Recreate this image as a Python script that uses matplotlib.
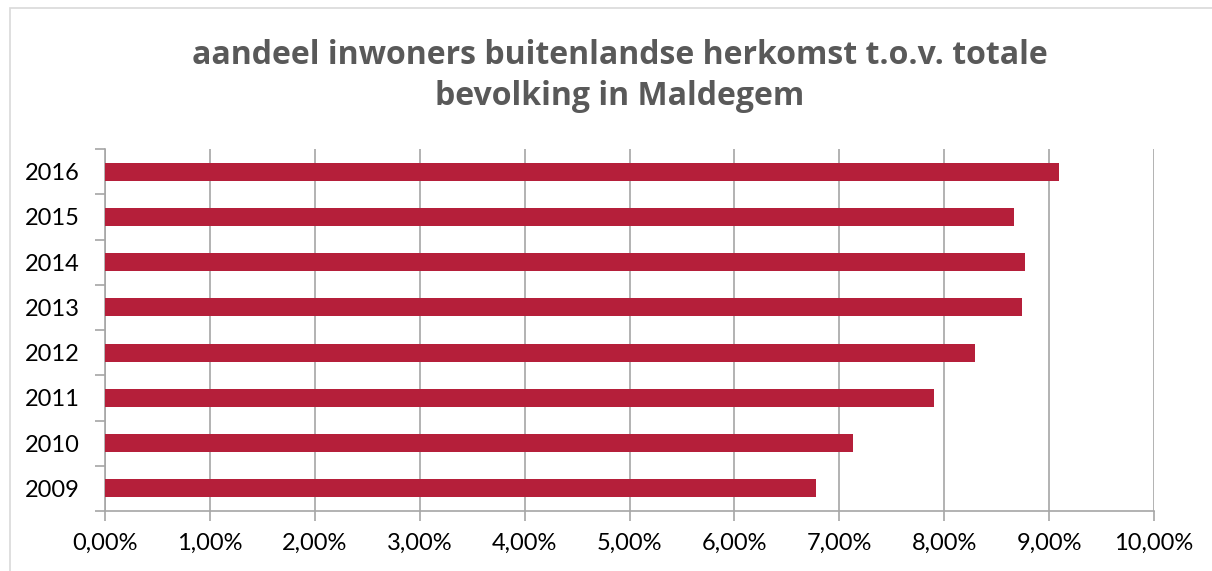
import matplotlib.pyplot as plt
from matplotlib.patches import Rectangle
from matplotlib.ticker import FuncFormatter, MultipleLocator

years = ['2009', '2010', '2011', '2012', '2013', '2014', '2015', '2016']
share = [6.78, 7.13, 7.90, 8.29, 8.74, 8.77, 8.67, 9.09]  # percent

W, H = 1212, 571
fig = plt.figure(figsize=(W / 100, H / 100), dpi=100)

# chart frame (light grey border, partly off-page)
fig.patches.append(Rectangle((10 / W, -0.1), 1.2, 1 - 8 / H + 0.1, transform=fig.transFigure,
                             fill=False, edgecolor='#d9d9d9', linewidth=1.2))

ax = fig.add_axes([105 / W, 60 / H, (1154 - 105) / W, (511 - 149) / H])
ax.barh(years, share, height=0.4, color='#b51f3a', zorder=3)

ax.set_xlim(0, 10)
ax.set_ylim(-0.5, len(years) - 0.5)
ax.xaxis.set_major_locator(MultipleLocator(1))
ax.xaxis.set_major_formatter(FuncFormatter(lambda v, p: f'{v:.2f}%'.replace('.', ',')))
ax.grid(axis='x', color='#a6a6a6', linewidth=1.2, zorder=0)

for s in ['top', 'right']:
    ax.spines[s].set_visible(False)
for s in ['left', 'bottom']:
    ax.spines[s].set_color('#a6a6a6')
    ax.spines[s].set_linewidth(1.2)

# category boundary ticks on the y axis
ax.set_yticks([i - 0.5 for i in range(len(years) + 1)], minor=True)
ax.tick_params(axis='y', which='major', length=0, pad=18)
ax.tick_params(axis='y', which='minor', length=7, color='#a6a6a6', width=1.2)
ax.tick_params(axis='x', length=7, color='#a6a6a6', width=1.2, pad=9)
for lab in ax.get_xticklabels() + ax.get_yticklabels():
    lab.set_fontfamily('Lato')
    lab.set_fontsize(17)

fig.text(620 / W, 1 - 76 / H, 'aandeel inwoners buitenlandse herkomst t.o.v. totale\nbevolking in Maldegem',
         ha='center', va='center', fontsize=23, fontweight='bold', color='#595959',
         family='Open Sans', linespacing=1.3)

fig.savefig('out.png', dpi=100)
